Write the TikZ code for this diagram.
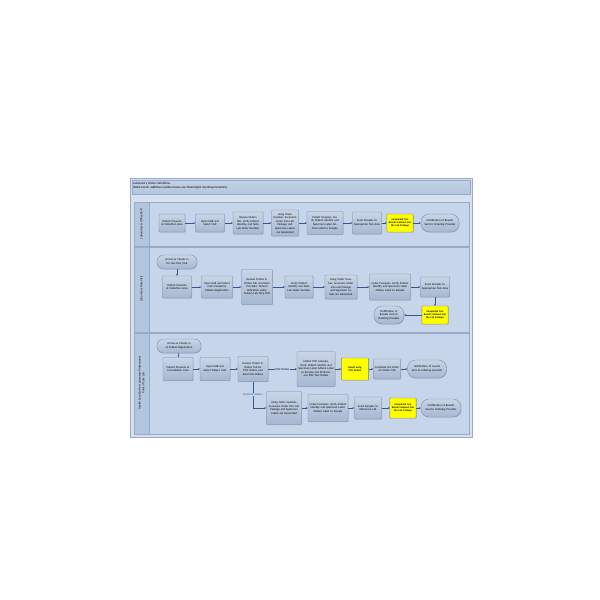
\documentclass[tikz,border=0pt]{standalone}
\usepackage{fontspec}
\setmainfont{Carlito}
\usetikzlibrary{arrows.meta,shadows}

\definecolor{paneblue}{HTML}{D5E1F0}
\definecolor{laneblue}{HTML}{C6D5EA}
\definecolor{lanehead}{HTML}{B4C6DF}
\definecolor{frameline}{HTML}{97ABC8}
\definecolor{boxtop}{HTML}{C8D5E7}
\definecolor{boxbot}{HTML}{A6B7D1}
\definecolor{boxline}{HTML}{7489AA}
\definecolor{flowline}{HTML}{35578A}
\definecolor{mustyellow}{HTML}{FFFF00}

\newcommand{\boxfont}{\fontsize{2.9}{3.6}\selectfont}
\newcommand{\mustfont}{\fontsize{2.6}{3.3}\selectfont\bfseries}
\newcommand{\lanefont}{\fontsize{3}{3.7}\selectfont}

\begin{document}
\begin{tikzpicture}[x=1pt,y=-1pt,
  taskbox/.style={draw=boxline,line width=0.35pt,top color=boxtop,bottom color=boxbot,
    rounded corners=0.8pt,align=center,inner sep=1pt,font=\boxfont,
    drop shadow={shadow xshift=0.5pt,shadow yshift=-0.6pt,opacity=0.3}},
  mustbox/.style={taskbox,top color=mustyellow,bottom color=mustyellow,draw=gray,
    inner sep=0.6pt,font=\mustfont},
  endpill/.style={taskbox,rounded corners=8pt},
  startpill/.style={taskbox,rounded corners=6.5pt}]
\useasboundingbox (0,0) rectangle (600,600);

% swimlane frame
\draw[frameline,fill=paneblue] (130,178) rectangle (472,437);
\draw[frameline,top color=lanehead!80!white,bottom color=lanehead] (132,180) rectangle (470,194);
\draw[frameline,fill=laneblue] (134,202) rectangle (469,246);
\draw[frameline,fill=laneblue] (134,247) rectangle (469,332);
\draw[frameline,fill=laneblue] (134,333) rectangle (469,434);
\draw[frameline,fill=lanehead] (134,202) rectangle (149,246);
\draw[frameline,fill=lanehead] (134,247) rectangle (149,332);
\draw[frameline,fill=lanehead] (134,333) rectangle (149,434);

\node[anchor=north west,align=left,inner sep=0pt,font=\fontsize{3.2}{4}\selectfont] (title) at (133,182)
  {Laboratory Orders Workflow\\(Bold words: additional yellow boxes are Meaningful Use Requirements)};
\node[rotate=90,font=\lanefont] (lane1) at (141.5,224) {Laboratory \& Office Staff};
\node[rotate=90,font=\lanefont] (lane2) at (141.5,289) {Laboratory Only Visit};
\node[rotate=90,align=center,font=\lanefont] (lane3) at (141.5,383)
  {Health Care Staff or Laboratory Professional\\Point of Care Lab};

% lane 1
\node[taskbox,text width=24pt,minimum height=18pt] (n1) at (172,223) {Patient Presents at Collection Area};
\node[taskbox,text width=27pt,minimum height=18pt] (n2) at (210,223) {Open EHR and Select Visit};
\node[taskbox,text width=28pt,minimum height=22pt] (n3) at (248,223) {Review Orders Tab, Verify Patient Identity, and Note Lab Order Number};
\node[taskbox,text width=25pt,minimum height=26pt] (n4) at (285,223) {Using Order Number, Accession Order into Lab Package and Specimen Labels are Generated};
\node[taskbox,text width=34pt,minimum height=23pt] (n5) at (325,223) {Collect Samples, Verify Patient Identity and Specimen Label Adhere Label to Sample};
\node[taskbox,text width=27pt,minimum height=22pt] (n6) at (367,223) {Send Samples to Appropriate Test Area};
\node[mustbox,text width=25pt,minimum height=18pt] (n7) at (400,223) {Completed Test Results Entered into the Lab Package};
\node[endpill,text width=36pt,minimum height=18pt] (n8) at (440,223) {Notification of Results Sent to Ordering Provider};

% lane 2
\node[startpill,text width=38pt,minimum height=14pt] (t2) at (177,262) {Arrives \& Checks in for Lab Only Visit};
\node[taskbox,text width=27pt,minimum height=22pt] (p2) at (177,287) {Patient Presents at Collection Area};
\node[taskbox,text width=29pt,minimum height=22pt] (o2) at (217,287) {Open EHR and Select Visit Created by Patient Registration};
\node[taskbox,text width=29pt,minimum height=35pt] (r2) at (257,287) {Review Orders in Orders Tab and Enter Providers' Clinical Indication under Today's Lab Only POS};
\node[taskbox,text width=26pt,minimum height=22pt] (v2) at (299,287) {Verify Patient Identity and Note Lab Order Number};
\node[taskbox,text width=30pt,minimum height=24pt] (a2) at (341,287) {Using Order Number, Accession Order into Lab Package and Specimen Labels are Generated};
\node[taskbox,text width=39pt,minimum height=26pt] (c2) at (390,287) {Collect Samples, Verify Patient Identity and Specimen Label Adhere Label to Sample};
\node[taskbox,text width=27pt,minimum height=20pt] (s2) at (435,287) {Send Samples to Appropriate Test Area};
\node[mustbox,text width=25pt,minimum height=18pt] (y2) at (435,315) {Completed Test Results Entered into the Lab Package};
\node[endpill,text width=28pt,minimum height=18pt] (e2) at (389,315) {Notification of Results Sent to Ordering Provider};

% lane 3
\node[startpill,text width=42pt,minimum height=14pt] (t3) at (179,346) {Arrives \& Checks in at Patient Registration};
\node[taskbox,text width=28pt,minimum height=23pt] (p3) at (178,369) {Patient Presents at Consultation Area};
\node[taskbox,text width=28pt,minimum height=23pt] (o3) at (215,369) {Open EHR and Select Today's Visit};
\node[taskbox,text width=28pt,minimum height=25pt] (r3) at (253,369) {Review Orders in Orders Tab for POC Orders and Send Out Orders};
\node[taskbox,text width=36pt,minimum height=35pt] (k3) at (316,369) {Collect POC Samples, Verify Patient Identity and Specimen Label Adhere Label to Sample and Performs any POC Test Orders};
\node[mustbox,text width=26pt,minimum height=22pt] (y3) at (355,369) {Result using POC Button};
\node[taskbox,text width=25pt,minimum height=20pt] (m3) at (387,369) {Complete the Order on Orders Tab};
\node[endpill,text width=37pt,minimum height=18pt] (e3) at (427,369) {Notification of results sent to ordering provider};
\node[taskbox,text width=33pt,minimum height=33pt] (a3) at (284,408) {Using Order Number, Accession Order into Lab Package and Specimen Labels are Generated};
\node[taskbox,text width=38pt,minimum height=27pt] (c3) at (328,408) {Collect Samples, Verify Patient Identity and Specimen Label. Adhere Label to Sample};
\node[taskbox,text width=25pt,minimum height=22pt] (s3) at (368,408) {Send Samples to Reference Lab};
\node[mustbox,text width=25pt,minimum height=20pt] (y4) at (403,408) {Completed Test Results Entered into the Lab Package};
\node[endpill,text width=38pt,minimum height=18pt] (e4) at (441,408) {Notification of Results Sent to Ordering Provider};

\begin{scope}[>={Stealth[length=2pt,width=1.8pt]},
              every node/.style={fill=laneblue,inner sep=0.6pt,font=\boxfont},
              every edge/.style={draw=flowline,line width=0.4pt}]
    \path [->] (n1) edge (n2);
    \path [->] (n2) edge (n3);
    \path [->] (n3) edge (n4);
    \path [->] (n4) edge (n5);
    \path [->] (n5) edge (n6);
    \path [->] (n6) edge (n7);
    \path [->] (n7) edge (n8);

    \path [->] (t2) edge (p2);
    \path [->] (p2) edge (o2);
    \path [->] (o2) edge (r2);
    \path [->] (r2) edge (v2);
    \path [->] (v2) edge (a2);
    \path [->] (a2) edge (c2);
    \path [->] (c2) edge (s2);
    \path [->] (s2) edge (y2);
    \path [->] (y2) edge (e2);

    \path [->] (t3) edge (p3);
    \path [->] (p3) edge (o3);
    \path [->] (o3) edge (r3);
    \path [->] (r3) edge node (poc) {POC Orders} (k3);
    \path [->] (k3) edge (y3);
    \path [->] (y3) edge (m3);
    \path [->] (m3) edge (e3);
    \draw [->,flowline,line width=0.4pt] (r3) |- (a3) node[pos=0.25] (sendout) {Send Out Orders};
    \path [->] (a3) edge (c3);
    \path [->] (c3) edge (s3);
    \path [->] (s3) edge (y4);
    \path [->] (y4) edge (e4);
\end{scope}
\end{tikzpicture}
\end{document}
